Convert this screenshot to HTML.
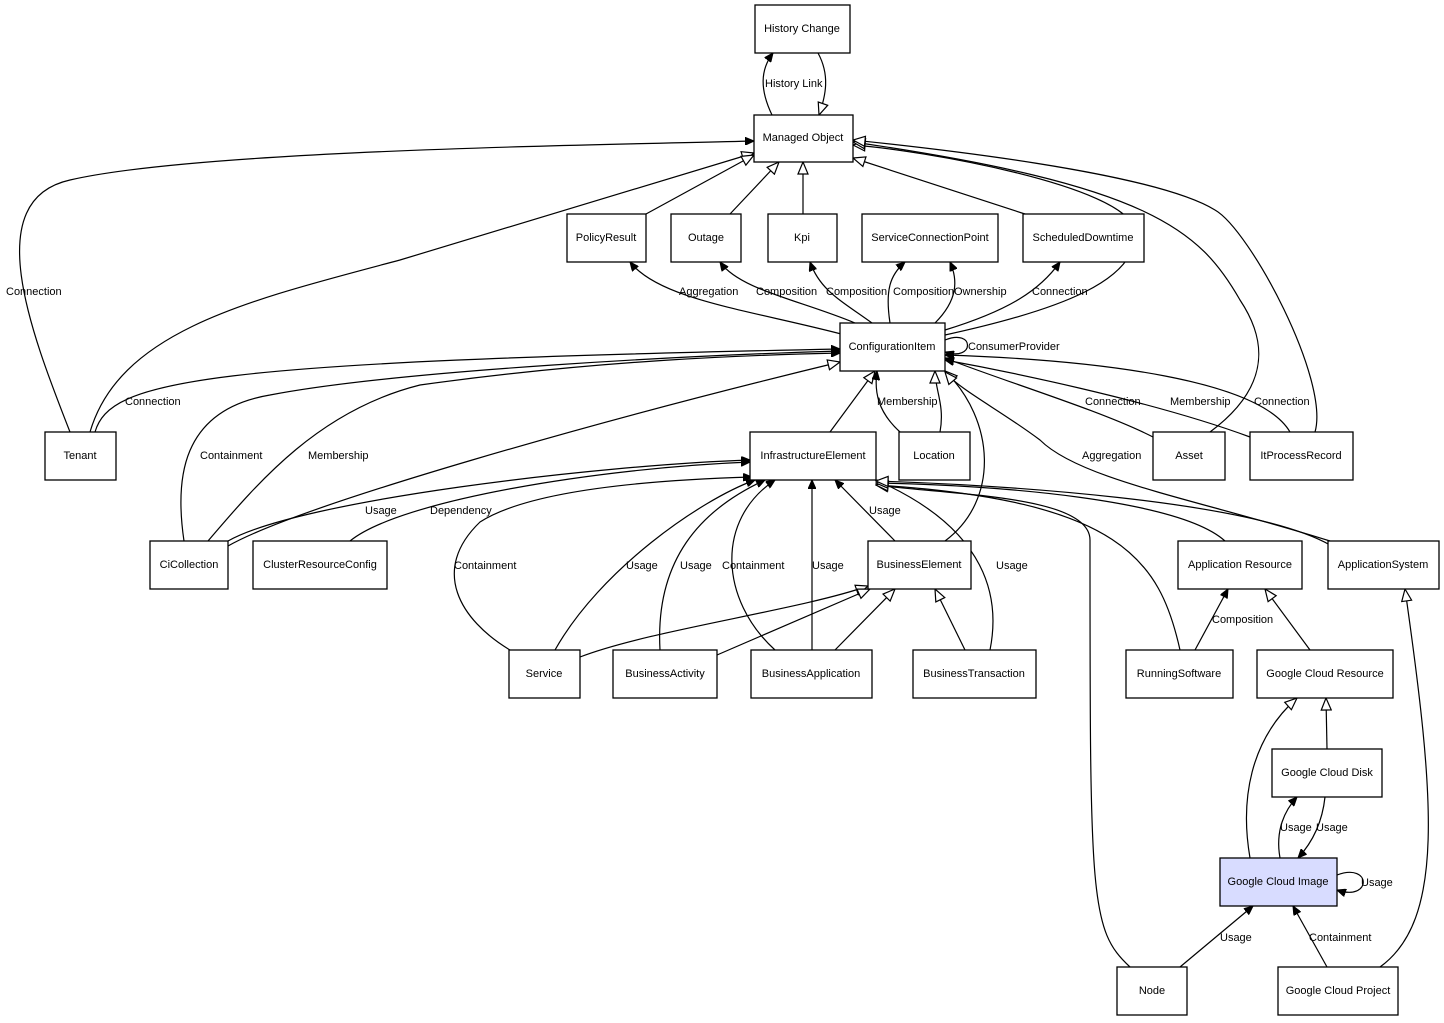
<!DOCTYPE html>
<html><head><meta charset="utf-8"><style>
body{margin:0;background:#fff}
svg{display:block}
text{font-family:"Liberation Sans",sans-serif;font-size:11px;fill:#000}
.n text{text-anchor:middle;dominant-baseline:central}
rect{fill:#fff;stroke:#000;stroke-width:1.3}
path{fill:none;stroke:#000;stroke-width:1.2}
</style></head><body>
<svg width="1444" height="1023" viewBox="0 0 1444 1023">
<defs>
<marker id="f" markerUnits="userSpaceOnUse" markerWidth="10" markerHeight="8" refX="9" refY="4" orient="auto"><path d="M0,0 L9,4 L0,8 Z" style="fill:#000;stroke:#000;stroke-width:1"/></marker>
<marker id="h" markerUnits="userSpaceOnUse" markerWidth="14" markerHeight="12" refX="13" refY="6" orient="auto"><path d="M1,1 L13,6 L1,11 Z" style="fill:#fff;stroke:#000;stroke-width:1.2"/></marker>
</defs>
<g>
<path d="M772,115 C760,90 760,70 773,53" marker-end="url(#f)"/>
<path d="M818,53 C830,75 826,95 819,115" marker-end="url(#h)"/>
<path d="M70,432 C30,330 -20,200 70,180 C200,150 600,145 754,141" marker-end="url(#f)"/>
<path d="M90,432 C120,330 250,300 400,260 L754,153" marker-end="url(#h)"/>
<path d="M646,214 L754,155" marker-end="url(#h)"/>
<path d="M730,214 L779,162" marker-end="url(#h)"/>
<path d="M803,214 L803,162" marker-end="url(#h)"/>
<path d="M1025,214 L853,158" marker-end="url(#h)"/>
<path d="M945,335 C1060,310 1140,280 1135,230 C1125,185 920,150 853,145" marker-end="url(#h)"/>
<path d="M1210,432 C1280,380 1260,330 1240,300 C1200,230 1150,185 853,142" marker-end="url(#h)"/>
<path d="M1315,432 C1330,380 1250,230 1215,210 C1150,170 900,145 853,140" marker-end="url(#h)"/>
<path d="M845,335 C750,310 660,300 630,262" marker-end="url(#f)"/>
<path d="M855,323 C800,300 740,290 720,262" marker-end="url(#f)"/>
<path d="M872,323 C840,300 820,290 810,262" marker-end="url(#f)"/>
<path d="M890,323 C885,290 890,275 905,262" marker-end="url(#f)"/>
<path d="M935,323 C958,300 958,280 950,262" marker-end="url(#f)"/>
<path d="M945,330 C1010,310 1040,290 1060,262" marker-end="url(#f)"/>
<path d="M945,340 C975,328 975,362 945,352" marker-end="url(#f)"/>
<path d="M95,432 C110,380 200,362 840,349" marker-end="url(#f)"/>
<path d="M184,541 C175,480 180,410 270,395 C400,370 700,355 840,351" marker-end="url(#f)"/>
<path d="M208,541 C260,480 320,410 420,385 C600,360 750,355 840,353" marker-end="url(#f)"/>
<path d="M228,546 C300,505 600,420 840,362" marker-end="url(#h)"/>
<path d="M830,432 L875,371" marker-end="url(#h)"/>
<path d="M900,432 C878,412 874,392 877,371" marker-end="url(#f)"/>
<path d="M940,432 C945,405 935,390 935,371" marker-end="url(#h)"/>
<path d="M945,541 C1000,500 995,420 945,371" marker-end="url(#h)"/>
<path d="M1153,437 C1100,410 1000,380 945,358" marker-end="url(#f)"/>
<path d="M1250,437 C1150,400 1000,370 945,360" marker-end="url(#f)"/>
<path d="M1290,432 C1260,380 1100,360 945,355" marker-end="url(#f)"/>
<path d="M1330,541 C1200,500 1080,480 1040,440 C1000,410 960,390 945,372" marker-end="url(#h)"/>
<path d="M228,541 C300,500 600,465 750,460" marker-end="url(#f)"/>
<path d="M350,541 C400,500 600,468 750,462" marker-end="url(#f)"/>
<path d="M510,650 C460,620 430,570 480,522 C530,490 650,480 752,477" marker-end="url(#f)"/>
<path d="M555,650 C600,570 700,500 755,480" marker-end="url(#f)"/>
<path d="M660,650 C655,560 700,510 765,480" marker-end="url(#f)"/>
<path d="M775,650 C720,600 715,520 775,480" marker-end="url(#f)"/>
<path d="M812,650 L812,480" marker-end="url(#f)"/>
<path d="M895,541 L835,480" marker-end="url(#f)"/>
<path d="M990,650 C1000,600 990,530 876,480" marker-end="url(#f)"/>
<path d="M1130,967 C1090,930 1090,900 1090,540 C1090,495 950,495 876,485" marker-end="url(#h)"/>
<path d="M1180,650 C1160,560 1120,500 876,485" marker-end="url(#h)"/>
<path d="M1225,541 C1180,500 1000,485 876,483" marker-end="url(#h)"/>
<path d="M1330,545 C1250,500 1000,485 876,481" marker-end="url(#h)"/>
<path d="M580,657 C650,630 800,610 868,586" marker-end="url(#h)"/>
<path d="M717,655 L870,589" marker-end="url(#h)"/>
<path d="M835,650 L895,589" marker-end="url(#h)"/>
<path d="M965,650 L935,589" marker-end="url(#h)"/>
<path d="M1195,650 L1228,589" marker-end="url(#f)"/>
<path d="M1310,650 L1265,589" marker-end="url(#h)"/>
<path d="M1327,749 L1326,698" marker-end="url(#h)"/>
<path d="M1250,858 C1240,800 1250,740 1297,698" marker-end="url(#h)"/>
<path d="M1280,858 C1275,830 1285,810 1297,797" marker-end="url(#f)"/>
<path d="M1325,797 C1322,825 1310,845 1298,858" marker-end="url(#f)"/>
<path d="M1337,875 C1372,862 1372,902 1337,890" marker-end="url(#f)"/>
<path d="M1180,967 L1253,906" marker-end="url(#f)"/>
<path d="M1327,967 L1293,906" marker-end="url(#f)"/>
<path d="M1380,967 C1445,920 1435,800 1405,589" marker-end="url(#h)"/>
</g>
<g>
<text x="765" y="87">History Link</text>
<text x="6" y="295">Connection</text>
<text x="679" y="295">Aggregation</text>
<text x="756" y="295">Composition</text>
<text x="826" y="295">Composition</text>
<text x="893" y="295">Composition</text>
<text x="954" y="295">Ownership</text>
<text x="1032" y="295">Connection</text>
<text x="968" y="350">ConsumerProvider</text>
<text x="125" y="405">Connection</text>
<text x="877" y="405">Membership</text>
<text x="1085" y="405">Connection</text>
<text x="1170" y="405">Membership</text>
<text x="1254" y="405">Connection</text>
<text x="200" y="459">Containment</text>
<text x="308" y="459">Membership</text>
<text x="1082" y="459">Aggregation</text>
<text x="365" y="514">Usage</text>
<text x="430" y="514">Dependency</text>
<text x="869" y="514">Usage</text>
<text x="454" y="569">Containment</text>
<text x="626" y="569">Usage</text>
<text x="680" y="569">Usage</text>
<text x="722" y="569">Containment</text>
<text x="812" y="569">Usage</text>
<text x="996" y="569">Usage</text>
<text x="1212" y="623">Composition</text>
<text x="1280" y="831">Usage</text>
<text x="1316" y="831">Usage</text>
<text x="1361" y="886">Usage</text>
<text x="1220" y="941">Usage</text>
<text x="1309" y="941">Containment</text>
</g>
<g class="n">
<rect x="755" y="5" width="95" height="48"/><text x="802" y="29">History Change</text>
<rect x="754" y="115" width="99" height="47"/><text x="803" y="138">Managed Object</text>
<rect x="567" y="214" width="79" height="48"/><text x="606" y="238">PolicyResult</text>
<rect x="671" y="214" width="70" height="48"/><text x="706" y="238">Outage</text>
<rect x="768" y="214" width="69" height="48"/><text x="802" y="238">Kpi</text>
<rect x="862" y="214" width="136" height="48"/><text x="930" y="238">ServiceConnectionPoint</text>
<rect x="1023" y="214" width="121" height="48"/><text x="1083" y="238">ScheduledDowntime</text>
<rect x="840" y="323" width="105" height="48"/><text x="892" y="347">ConfigurationItem</text>
<rect x="45" y="432" width="71" height="48"/><text x="80" y="456">Tenant</text>
<rect x="750" y="432" width="126" height="48"/><text x="813" y="456">InfrastructureElement</text>
<rect x="899" y="432" width="71" height="48"/><text x="934" y="456">Location</text>
<rect x="1153" y="432" width="72" height="48"/><text x="1189" y="456">Asset</text>
<rect x="1250" y="432" width="103" height="48"/><text x="1301" y="456">ItProcessRecord</text>
<rect x="150" y="541" width="78" height="48"/><text x="189" y="565">CiCollection</text>
<rect x="253" y="541" width="134" height="48"/><text x="320" y="565">ClusterResourceConfig</text>
<rect x="868" y="541" width="103" height="48"/><text x="919" y="565">BusinessElement</text>
<rect x="1178" y="541" width="124" height="48"/><text x="1240" y="565">Application Resource</text>
<rect x="1328" y="541" width="111" height="48"/><text x="1383" y="565">ApplicationSystem</text>
<rect x="509" y="650" width="71" height="48"/><text x="544" y="674">Service</text>
<rect x="613" y="650" width="104" height="48"/><text x="665" y="674">BusinessActivity</text>
<rect x="751" y="650" width="121" height="48"/><text x="811" y="674">BusinessApplication</text>
<rect x="913" y="650" width="123" height="48"/><text x="974" y="674">BusinessTransaction</text>
<rect x="1126" y="650" width="107" height="48"/><text x="1179" y="674">RunningSoftware</text>
<rect x="1257" y="650" width="136" height="48"/><text x="1325" y="674">Google Cloud Resource</text>
<rect x="1272" y="749" width="110" height="48"/><text x="1327" y="773">Google Cloud Disk</text>
<rect x="1220" y="858" width="117" height="48" style="fill:#d8dcff"/><text x="1278" y="882">Google Cloud Image</text>
<rect x="1117" y="967" width="70" height="48"/><text x="1152" y="991">Node</text>
<rect x="1278" y="967" width="120" height="48"/><text x="1338" y="991">Google Cloud Project</text>
</g>
</svg>
</body></html>
